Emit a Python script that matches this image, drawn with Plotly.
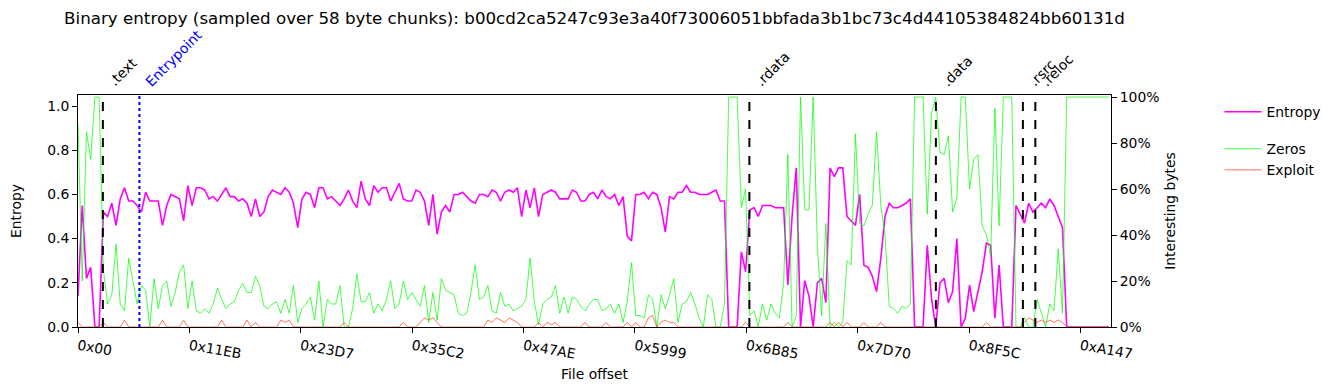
import plotly.graph_objects as go

TITLE = ("Binary entropy (sampled over 58 byte chunks): "
         "b00cd2ca5247c93e3a40f73006051bbfada3b1bc73c4d44105384824bb60131d")

CHUNK = 58
STEP = 3 * CHUNK  # bytes between plotted samples

# Entropy (normalised 0..1), one value per STEP bytes
entropy = [
    0.14, 0.55, 0.22, 0.27, 0.0, 0.0, 0.52,
    0.50, 0.56, 0.46, 0.58, 0.63, 0.57, 0.57, 0.55, 0.52, 0.61, 0.57, 0.57, 0.57, 0.46,
    0.55, 0.60, 0.59, 0.58, 0.48, 0.64, 0.55, 0.63, 0.63, 0.62, 0.58, 0.59, 0.57, 0.60,
    0.63, 0.59, 0.59, 0.57, 0.58, 0.56, 0.50, 0.58, 0.50, 0.52, 0.59, 0.62, 0.61, 0.60,
    0.63, 0.61, 0.56, 0.45, 0.58, 0.61, 0.60, 0.54, 0.63, 0.63, 0.58, 0.59, 0.57,
    0.55, 0.58, 0.62, 0.57, 0.54, 0.66, 0.58, 0.55, 0.64, 0.61, 0.63, 0.63, 0.57, 0.61,
    0.65, 0.58, 0.57, 0.57, 0.62, 0.61, 0.57, 0.46, 0.60, 0.42, 0.52, 0.55, 0.52, 0.60,
    0.60, 0.61, 0.59, 0.57, 0.56, 0.60, 0.60, 0.59, 0.62, 0.61, 0.57, 0.61, 0.62, 0.61,
    0.63, 0.50, 0.62, 0.54, 0.63, 0.50, 0.60, 0.61, 0.62, 0.61, 0.58, 0.58, 0.58, 0.62,
    0.61, 0.57, 0.57, 0.60, 0.61, 0.58, 0.62,
    0.59, 0.58, 0.60, 0.55, 0.59, 0.41, 0.39, 0.60, 0.60, 0.61, 0.58, 0.61, 0.60, 0.54,
    0.43, 0.59, 0.58, 0.61, 0.61, 0.64, 0.61, 0.61, 0.60, 0.60, 0.60, 0.61, 0.62, 0.57,
    0.57, 0.0, 0.0, 0.0, 0.34, 0.25, 0.53, 0.54, 0.50, 0.55, 0.55, 0.55, 0.54, 0.54,
    0.54, 0.19, 0.50, 0.72, 0.0, 0.21, 0.14, 0.0, 0.20, 0.22, 0.11, 0.72, 0.68, 0.72,
    0.72, 0.50, 0.48, 0.46, 0.60, 0.28,
    0.27, 0.23, 0.16, 0.31, 0.50, 0.56, 0.54, 0.54, 0.55, 0.56, 0.58, 0.0, 0.0, 0.0,
    0.37, 0.13, 0.0, 0.20, 0.22, 0.11, 0.16, 0.40, 0.0, 0.04, 0.19, 0.07, 0.16, 0.25,
    0.38, 0.37, 0.04, 0.28, 0.0, 0.0, 0.0, 0.55, 0.51, 0.47, 0.56, 0.52, 0.54, 0.56,
    0.54, 0.58, 0.55, 0.50, 0.45, 0.0,
    0.0, 0.0, 0.0, 0.0, 0.0, 0.0, 0.0, 0.0, 0.0, 0.0,
]

# Fraction of zero bytes per sample
zeros = [
    0.88, 0.20, 0.85, 0.73, 1.0, 1.0, 0.25,
    0.10, 0.14, 0.36, 0.10, 0.07, 0.30, 0.20, 0.10, 0.18, 0.16, 0.0, 0.21, 0.08, 0.18,
    0.20, 0.09, 0.15, 0.24, 0.27, 0.08, 0.20, 0.07, 0.06, 0.08, 0.06, 0.10, 0.17, 0.12,
    0.08, 0.10, 0.11, 0.16, 0.19, 0.15, 0.15, 0.22, 0.18, 0.09, 0.08, 0.10, 0.11, 0.06,
    0.12, 0.06, 0.18, 0.02, 0.08, 0.10, 0.13, 0.03, 0.20, 0.0, 0.12, 0.10, 0.10,
    0.18, 0.0, 0.0, 0.08, 0.23, 0.11, 0.11, 0.15, 0.06, 0.10, 0.07, 0.12, 0.20, 0.08,
    0.10, 0.20, 0.12, 0.15, 0.12, 0.09, 0.18, 0.02, 0.15, 0.03, 0.21, 0.16, 0.15, 0.14,
    0.06, 0.05, 0.06, 0.15, 0.27, 0.12, 0.13, 0.18, 0.07, 0.06, 0.15, 0.09, 0.10, 0.07,
    0.08, 0.09, 0.12, 0.30, 0.11, 0.01, 0.10, 0.12, 0.13, 0.18, 0.06, 0.13, 0.06, 0.13,
    0.12, 0.09, 0.07, 0.10, 0.12, 0.12, 0.07,
    0.08, 0.10, 0.06, 0.10, 0.02, 0.11, 0.28, 0.05, 0.05, 0.04, 0.14, 0.12, 0.0, 0.14,
    0.08, 0.14, 0.21, 0.02, 0.10, 0.11, 0.15, 0.10, 0.04, 0.0, 0.14, 0.12, 0.0, 0.0,
    0.10, 1.0, 1.0, 1.0, 0.52, 0.60, 0.05, 0.07, 0.0, 0.10, 0.03, 0.10, 0.06, 0.04,
    0.19, 0.75, 0.0, 0.05, 1.0, 0.51, 0.51, 1.0, 0.35, 0.05, 0.45, 0.0, 0.02, 0.0,
    0.02, 0.29, 0.27, 0.84, 0.45, 0.44,
    0.49, 0.53, 0.85, 0.53, 0.40, 0.09, 0.08, 0.06, 0.09, 0.08, 0.10, 1.0, 1.0, 1.0,
    0.49, 0.93, 1.0, 0.76, 0.75, 0.83, 0.50, 0.56, 1.0, 1.0, 0.60, 0.73, 0.75, 0.44,
    0.40, 0.31, 0.95, 0.44, 1.0, 1.0, 1.0, 0.0, 0.0, 0.04, 0.0, 0.0, 0.12, 0.06,
    0.0, 0.10, 0.07, 0.34, 0.06, 1.0,
    1.0, 1.0, 1.0, 1.0, 1.0, 1.0, 1.0, 1.0, 1.0, 1.0,
]

# Fraction of "exploit" bytes per sample
exploit = [
    0.02, 0, 0, 0, 0, 0, 0.02, 0, 0, 0, 0, 0.03, 0, 0, 0, 0, 0, 0, 0, 0,
    0.03, 0, 0, 0, 0, 0.03, 0, 0, 0, 0, 0, 0, 0, 0, 0.03, 0, 0, 0, 0, 0,
    0.03, 0, 0.02, 0, 0, 0, 0, 0, 0.03, 0.02, 0.03, 0, 0, 0, 0, 0, 0, 0, 0, 0,
    0, 0, 0, 0.02, 0, 0, 0, 0, 0, 0, 0, 0, 0, 0, 0, 0, 0, 0.02, 0, 0,
    0, 0.02, 0.04, 0.03, 0.04, 0.02, 0, 0, 0, 0, 0, 0, 0, 0, 0, 0, 0, 0.03, 0.02, 0.04,
    0.03, 0.02, 0.04, 0.03, 0.02, 0, 0, 0, 0, 0.02, 0, 0.02, 0.01, 0.02, 0, 0, 0, 0, 0, 0,
    0.02, 0, 0, 0, 0, 0.02, 0, 0, 0, 0, 0.02, 0, 0.02, 0, 0, 0.04, 0.05, 0, 0.02, 0.03,
    0.02, 0.02, 0, 0, 0, 0, 0, 0, 0, 0, 0, 0, 0, 0, 0, 0, 0, 0, 0.02, 0,
    0, 0, 0, 0, 0, 0, 0, 0, 0.02, 0, 0, 0, 0, 0, 0, 0, 0, 0, 0.02, 0,
    0.02, 0, 0.02, 0, 0, 0, 0.02, 0, 0, 0, 0.02, 0, 0, 0, 0, 0, 0, 0, 0, 0,
    0, 0, 0, 0, 0, 0, 0, 0, 0, 0, 0, 0, 0, 0, 0, 0.02, 0, 0, 0, 0,
    0, 0, 0, 0, 0.02, 0.04, 0.03, 0.02, 0.03, 0.02, 0.03, 0.02, 0.03, 0.02, 0, 0, 0, 0, 0, 0,
    0, 0, 0, 0, 0,
]

offsets = [i * STEP for i in range(len(entropy))]

x_tick_vals = [0, 4587, 9175, 13762, 18350, 22937, 27525, 32112, 36700, 41287]
x_tick_text = ["0x00", "0x11EB", "0x23D7", "0x35C2", "0x47AE", "0x5999",
               "0x6B85", "0x7D70", "0x8F5C", "0xA147"]
X_MAX = 42540

section_names = [".text", ".rdata", ".data", ".rsrc", ".reloc"]
section_offsets = [1024, 27648, 35328, 38912, 39424]
entrypoint_offset = 2528
overlay_offset = 42880

FONT = "DejaVu Sans"

fig = go.Figure()
fig.add_trace(go.Scatter(
    x=offsets, y=entropy, name="Entropy", mode="lines",
    line=dict(color="#ff00ff", width=1.6), legendgroup="e", yaxis="y"))
fig.add_trace(go.Scatter(
    x=offsets, y=zeros, name="Zeros", mode="lines",
    line=dict(color="rgba(0,255,0,0.72)", width=1), legendgroup="b", yaxis="y2"))
fig.add_trace(go.Scatter(
    x=offsets, y=exploit, name="Exploit", mode="lines",
    line=dict(color="rgba(255,80,50,0.78)", width=1), legendgroup="b", yaxis="y2"))

shapes = []
annotations = []
for name, off in zip(section_names, section_offsets):
    shapes.append(dict(type="line", xref="x", yref="paper", x0=off, x1=off, y0=0, y1=1,
                       line=dict(color="black", width=2, dash="dash")))
    annotations.append(dict(x=off, y=1, xref="x", yref="paper", text=name, showarrow=False,
                            textangle=-45, xanchor="left", yanchor="bottom", yshift=3,
                            font=dict(family=FONT, size=13.9, color="black")))
shapes.append(dict(type="line", xref="x", yref="paper", x0=entrypoint_offset, x1=entrypoint_offset,
                   y0=0, y1=1, line=dict(color="blue", width=2, dash="dot")))
annotations.append(dict(x=entrypoint_offset, y=1, xref="x", yref="paper", text="Entrypoint",
                        showarrow=False, textangle=-45, xanchor="left", yanchor="bottom", yshift=3,
                        font=dict(family=FONT, size=13.9, color="blue")))
annotations.append(dict(x=overlay_offset, y=1, xref="x", yref="paper", text="Overlay",
                        showarrow=False, textangle=-45, xanchor="left", yanchor="bottom", yshift=3,
                        font=dict(family=FONT, size=13.9, color="blue")))

axis_common = dict(showline=True, linecolor="black", linewidth=1, ticks="outside",
                   ticklen=5, tickcolor="black", showgrid=False, zeroline=False,
                   tickfont=dict(family=FONT, size=13.9, color="black"))

fig.update_layout(
    width=1335, height=390,
    margin=dict(l=78, r=224, t=95, b=63, autoexpand=False),
    paper_bgcolor="white", plot_bgcolor="white",
    font=dict(family=FONT, size=13.9, color="black"),
    title=dict(text=TITLE, x=0.5, xref="paper", xanchor="center",
               y=1 - 18 / 390, yanchor="middle", font=dict(family=FONT, size=16.7, color="black")),
    xaxis=dict(range=[0, X_MAX], tickvals=x_tick_vals, ticktext=x_tick_text, tickangle=10,
               mirror=True, title=dict(text="File offset", standoff=8,
                                        font=dict(family=FONT, size=13.9)),
               **axis_common),
    yaxis=dict(range=[0, 1.05], tickvals=[0, 0.2, 0.4, 0.6, 0.8, 1.0], tickformat=".1f",
               mirror=True, title=dict(text="Entropy", standoff=22,
                                        font=dict(family=FONT, size=13.9)),
               **axis_common),
    yaxis2=dict(range=[0, 1.009], tickvals=[0, 0.2, 0.4, 0.6, 0.8, 1.0], tickformat=".0%",
                overlaying="y", side="right",
                title=dict(text="Interesting bytes", standoff=6,
                           font=dict(family=FONT, size=13.9)),
                **axis_common),
    legend=dict(x=1.105, y=0.995, xanchor="left", yanchor="top", tracegroupgap=16,
                itemwidth=37, bgcolor="rgba(0,0,0,0)", font=dict(family=FONT, size=13.9)),
    shapes=shapes, annotations=annotations,
)

fig.write_html("out.html", config={"displayModeBar": False},
               post_script="document.body.style.margin='0px';document.body.style.padding='0px';")
